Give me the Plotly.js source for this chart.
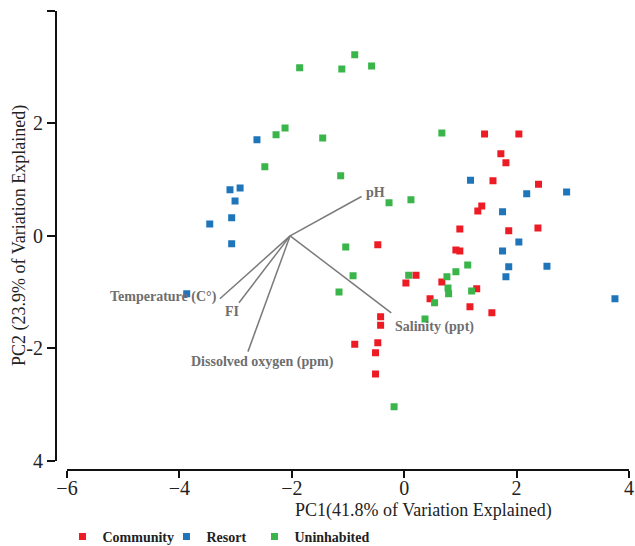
<!DOCTYPE html>
<html>
<head>
<meta charset="utf-8">
<script src="https://cdn.plot.ly/plotly-3.0.1.min.js"></script>
<style>html,body{margin:0;padding:0;background:#fff;}#chart{width:635px;height:546px;}</style>
</head>
<body>
<div id="chart"></div>
<script>
// Scores (PC1, PC2)
const communityX = [1.43, 2.04, 1.72, 1.81, 1.58, 2.39, 1.38, 1.31, 0.99, 1.86, 2.38, 0.92, 0.99, 0.21, 0.03, 0.67, 1.29, 0.46, 1.17, 1.56, -0.47, -0.42, -0.42, -0.88, -0.47, -0.51, -0.51];
const communityY = [1.81, 1.81, 1.46, 1.30, 0.98, 0.92, 0.53, 0.44, 0.12, 0.09, 0.14, -0.25, -0.27, -0.70, -0.84, -0.82, -0.94, -1.12, -1.26, -1.37, -0.16, -1.44, -1.59, -1.93, -1.90, -2.08, -2.46];
const resortX = [-2.62, -3.10, -2.92, -3.01, -3.07, -3.46, -3.07, -3.87, 1.18, 2.18, 2.89, 1.75, 2.04, 1.75, 1.86, 2.54, 1.81, 3.75];
const resortY = [1.71, 0.82, 0.85, 0.62, 0.32, 0.21, -0.14, -1.03, 0.99, 0.75, 0.78, 0.43, -0.11, -0.27, -0.55, -0.54, -0.73, -1.12];
const uninhabitedX = [-0.88, -1.86, -1.11, -0.58, -2.12, -2.28, -1.45, -2.48, -1.13, -0.27, 0.12, 0.67, -1.04, -0.91, -1.16, 0.08, 0.76, 0.92, 1.13, 0.78, 0.79, 1.20, 0.54, 0.37, -0.18];
const uninhabitedY = [3.22, 2.99, 2.97, 3.02, 1.92, 1.80, 1.74, 1.23, 1.07, 0.59, 0.64, 1.83, -0.20, -0.71, -1.00, -0.70, -0.73, -0.64, -0.52, -0.93, -1.03, -0.98, -1.19, -1.48, -3.04];

// Loading vectors (origin and end points) and their labels
const vectorOrigin = [-2.03, 0.0];
const vectorNames = ["pH", "Temperature (C°)", "FI", "Dissolved oxygen (ppm)", "Salinity (ppt)"];
const vectorEndX = [-0.76, -3.28, -2.94, -2.78, -0.23];
const vectorEndY = [0.70, -1.12, -1.19, -2.06, -1.37];
const labelX = [-0.72, -3.30, -3.07, -2.52, -0.20];
const labelY = [0.77, -1.08, -1.34, -2.24, -1.62];
const labelAnchor = ["left", "right", "center", "center", "left"];

const xTicks = [-6, -4, -2, 0, 2, 4];
const yTicks = [-4, -2, 0, 2, 4];
const yTickText = ["4", "-2", "0", "2", ""];

const serif = "Liberation Serif, Times New Roman, serif";
const traces = [];
for (let i = 0; i < vectorNames.length; i++) {
  traces.push({
    x: [vectorOrigin[0], vectorEndX[i]], y: [vectorOrigin[1], vectorEndY[i]],
    mode: "lines", type: "scatter", showlegend: false, hoverinfo: "skip",
    line: {color: "#7a7a7a", width: 1.5}
  });
}
const groups = [
  {name: "Community", x: communityX, y: communityY, color: "#ED1C24", legend: "legend", lx: 0.0113},
  {name: "Resort", x: resortX, y: resortY, color: "#1F75B9", legend: "legend2", lx: 0.1928},
  {name: "Uninhabited", x: uninhabitedX, y: uninhabitedY, color: "#39B54A", legend: "legend3", lx: 0.3464}
];
groups.forEach(g => traces.push({
  x: g.x, y: g.y, name: g.name, mode: "markers", type: "scatter", legend: g.legend,
  marker: {symbol: "square", size: 7, color: g.color, line: {width: 0}}
}));

const annotations = vectorNames.map((n, i) => ({
  x: labelX[i], y: labelY[i], xref: "x", yref: "y", text: "<b>" + n + "</b>",
  showarrow: false, xanchor: labelAnchor[i], yanchor: "middle",
  font: {family: serif, size: 14, color: "#6e6e6e"}
}));
annotations.push({
  x: 0.6405, y: -0.089, xref: "paper", yref: "paper", text: "PC1(41.8% of Variation Explained)",
  showarrow: false, xanchor: "center", yanchor: "middle",
  font: {family: serif, size: 18, color: "#222"}
});
annotations.push({
  x: -0.0628, y: 0.51, xref: "paper", yref: "paper", text: "PC2 (23.9% of Variation Explained)",
  showarrow: false, xanchor: "center", yanchor: "middle", textangle: -90,
  font: {family: serif, size: 18, color: "#222"}
});

function legendAt(x) {
  return {orientation: "h", x: x, y: -0.146, xanchor: "left", yanchor: "middle",
          bgcolor: "rgba(0,0,0,0)",
          font: {family: serif, size: 14, color: "#222", weight: "bold"}};
}

const layout = {
  width: 635, height: 546,
  margin: {l: 56, r: 6, t: 11, b: 76, pad: 0, autoexpand: false},
  paper_bgcolor: "#fff", plot_bgcolor: "#fff",
  showlegend: true,
  legend: legendAt(groups[0].lx),
  legend2: legendAt(groups[1].lx),
  legend3: legendAt(groups[2].lx),
  xaxis: {range: [-6, 4], domain: [0.0192, 1], anchor: "free", position: 0,
          showline: true, linecolor: "#111", linewidth: 2, mirror: false,
          showgrid: false, zeroline: false, ticks: "outside", ticklen: 7, tickwidth: 2, tickcolor: "#111",
          ticklabelstandoff: -7,
          tickvals: xTicks, tickfont: {family: serif, size: 20, color: "#222"}, automargin: false},
  yaxis: {range: [-4, 4], domain: [0.0203, 1], anchor: "free", position: 0,
          showline: true, linecolor: "#111", linewidth: 2,
          showgrid: false, zeroline: false, ticks: "outside", ticklen: 8, tickwidth: 2, tickcolor: "#111",
          tickvals: yTicks, ticktext: yTickText, tickfont: {family: serif, size: 20, color: "#222"},
          automargin: false},
  annotations: annotations
};
Plotly.newPlot("chart", traces, layout, {displayModeBar: false, staticPlot: true});
</script>
</body>
</html>
